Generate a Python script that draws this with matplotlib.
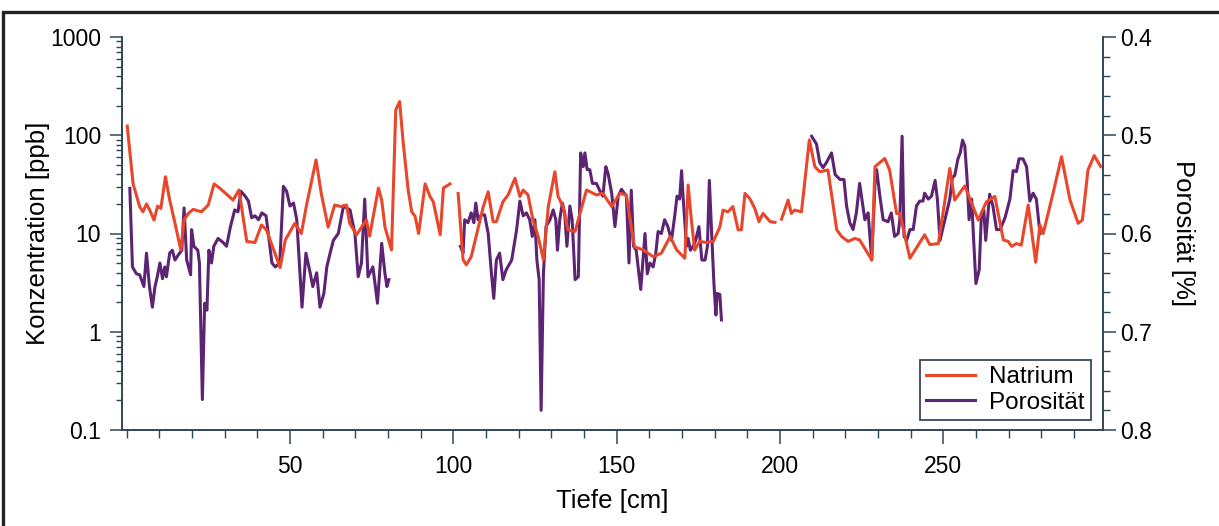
import numpy as np
import matplotlib
matplotlib.use("Agg")
import matplotlib.pyplot as plt
from matplotlib.ticker import FixedLocator, FuncFormatter, MultipleLocator, LogLocator, NullFormatter
from matplotlib.patches import Rectangle

plt.rcParams['font.family'] = ['Liberation Sans', 'DejaVu Sans']

# ---------------- data ----------------
na_depth = [0.2, 2.0, 4.0, 5.0, 6.1, 7.2, 8.4, 9.5, 10.5, 11.9, 13.2, 14.8, 16.6, 17.6, 18.9,
            20.4, 22.9, 25.0, 26.8, 28.6, 32.6, 34.4, 36.8, 39.3, 41.3, 42.8, 47.0, 48.6, 51.5,
            53.5, 55.0, 58.0, 59.6, 61.7, 63.7, 65.7, 67.3, 68.3, 70.4, 73.4, 74.4, 77.1, 78.1,
            79.1, 81.1, 82.4, 83.6, 84.6, 86.2, 87.3, 88.3, 89.4, 91.4, 92.9, 93.9, 96.0, 97.0,
            99.0, 100.2,
            101.5, 103.0, 104.0, 105.5, 107.2, 109.2, 110.7, 112.2, 113.2, 115.2, 116.8, 118.9,
            120.4, 121.4, 122.9, 124.4, 126.0, 127.6, 129.1, 131.1, 132.1, 133.6, 135.1, 137.3,
            138.8, 140.8, 143.8, 145.8, 148.5, 151.0, 153.0, 154.5, 155.5, 158.2, 161.2, 163.7,
            166.4, 168.4, 170.9, 171.9, 172.9, 173.9, 175.4, 177.5, 179.6, 181.6, 182.6, 184.1,
            185.6, 187.2, 188.2, 189.3, 190.8, 192.3, 193.6, 194.8, 197.0, 198.5,
            199.5,
            200.5, 202.5, 203.5, 204.5, 206.6, 209.0, 210.7, 212.2, 214.7, 217.4, 218.9, 220.9,
            222.9, 224.4, 228.1, 229.1, 232.1, 233.6, 235.7, 236.7, 239.8, 244.3, 245.9, 248.5,
            252.0, 253.5, 256.6, 260.7, 263.2, 265.8, 268.4, 269.9, 270.9, 272.4, 273.9, 276.0,
            278.3, 279.6, 280.6, 283.6, 286.2, 288.8, 291.3, 292.6, 294.3, 296.2, 298.2]
na_value = [124, 32, 18.8, 16.6, 20, 17, 13.7, 19, 18, 37.8, 21.9, 12.8, 6.8, 13.7, 16,
            17.6, 16.6, 19.5, 32, 28.8, 21.9, 27.7, 8.3, 8.1, 12.2, 10.9, 4.5, 8.6, 12.7,
            10, 18.8, 56, 25.6, 11.6, 19.5, 18.8, 19.5, 12.7, 9.7, 13.7, 9.4, 29, 21.9,
            11.6, 6.8, 181, 220, 89.5, 27.7, 16.6, 15, 10, 32, 23.8, 21, 9.7, 29,
            32, np.nan,
            25.6, 5.4, 4.8, 5.8, 10, 18.8, 26.6, 13.2, 13.2, 21, 24.7, 36.5,
            23.8, 27.7, 24.7, 13.7, 9.3, 5.4, 18.8, 42.5, 23.8, 18.8, 10.9, 10.5,
            16, 27.7, 24.7, 25.6, 18.8, 25.6, 24.7, 11.6, 7.3, 6.8, 5.8, 6.3,
            9.3, 6.8, 5.6, 31.2, 13.7, 6.8, 8.3, 8.1, 8.3, 11.6, 17.3, 16.6,
            18.8, 10.9, 10.9, 25.6, 22.6, 18, 13.2, 16, 13.2, 13,
            np.nan,
            14, 21.9, 16, 17.3, 16.6, 89.5, 47.9, 42.5, 44.3, 10.9, 9.3, 8.3,
            8.9, 8.6, 5.4, 47.9, 58, 44, 16, 16, 5.6, 9.7, 7.7, 7.9,
            46, 21.9, 30.5, 13.7, 21, 23.8, 8.6, 8.3, 7.4, 7.9, 7.6, 19.5,
            5.1, 12.2, 10, 25.6, 60.5, 21.9, 12.7, 13.7, 44.3, 62, 48]

por_depth = [1.0, 1.8, 3.0, 4.0, 5.3, 6.1, 7.0, 7.9, 8.7, 9.4, 10.2, 11.0, 11.7, 12.2, 13.2,
             14.0, 14.8, 15.8, 16.9, 17.6, 18.4, 19.6, 19.9, 20.6, 21.8, 22.3, 23.2, 23.9, 24.6,
             25.2, 26.0, 26.7, 28.0, 29.5, 30.6, 31.8, 33.1, 34.1, 35.0, 36.3, 37.3, 38.3, 39.3,
             40.4, 41.4, 42.7, 43.5, 44.5, 45.5, 46.9, 48.0, 49.0, 50.0, 51.1, 52.1, 53.7, 54.9,
             56.2, 57.0, 58.2, 59.2, 60.4, 61.3, 62.3, 63.3, 64.8, 66.4, 68.4, 69.9, 70.9, 71.9,
             72.9, 73.9, 75.4, 76.8, 78.1, 79.1, 79.7, 80.3,
             90.0,
             102.2, 103.0, 103.5, 104.5, 105.5, 106.3, 106.9, 107.6, 108.6, 109.6, 110.7, 111.7,
             112.4, 113.2, 114.2, 115.2, 116.2, 117.9, 119.4, 120.4, 121.4, 122.4, 123.4, 124.2,
             125.0, 125.6, 126.3, 126.9, 127.6, 128.4, 129.6, 130.6, 131.4, 131.9, 132.6, 133.4,
             134.1, 134.8, 135.7, 136.4, 137.3, 138.3, 139.0, 139.8, 140.3, 141.0, 141.8, 142.6,
             143.8, 144.8, 145.8, 146.7, 147.4, 148.5, 149.5, 150.5, 151.5, 153.0, 153.8, 154.5,
             155.2, 156.0, 157.4, 158.7, 159.4, 160.2, 161.2, 162.0, 162.7, 163.7, 164.7, 165.7,
             166.8, 167.8, 168.5, 169.3, 169.9, 170.4, 171.4, 171.9, 172.6, 173.4, 174.2, 175.2,
             176.1, 177.1, 177.8, 178.4, 179.1, 179.8, 180.4, 180.8, 181.6, 182.1,
             195.0,
             209.7, 211.2, 212.2, 213.2, 214.2, 215.8, 216.9, 218.4, 219.6, 220.4, 221.4, 222.4,
             223.4, 224.4, 226.0, 227.0, 228.1, 229.1, 229.6, 230.6, 231.6, 233.1, 234.1, 235.1,
             236.2, 236.7, 237.4, 238.0, 238.8, 239.8, 240.8, 241.8, 242.8, 243.8, 244.3, 245.4,
             246.4, 247.5, 248.2, 249.0, 250.0, 251.2, 252.0, 252.8, 253.5, 254.5, 255.2, 255.9,
             256.6, 257.3, 257.9, 258.7, 259.2, 260.0, 261.0, 261.7, 262.4, 263.0, 264.2, 265.2,
             266.3, 267.4, 268.9, 270.4, 271.4, 272.4, 273.2, 274.4, 275.5, 276.5, 277.5, 278.5,
             279.6]
por_value = [0.554, 0.634, 0.641, 0.642, 0.654, 0.620, 0.654, 0.675, 0.654, 0.644, 0.630, 0.646,
             0.634, 0.644, 0.620, 0.617, 0.627, 0.622, 0.617, 0.574, 0.627, 0.642, 0.596, 0.613,
             0.617, 0.630, 0.769, 0.671, 0.678, 0.617, 0.630, 0.613, 0.605, 0.609, 0.613, 0.593,
             0.576, 0.578, 0.557, 0.562, 0.567, 0.584, 0.582, 0.586, 0.579, 0.582, 0.603, 0.630,
             0.634, 0.630, 0.552, 0.557, 0.572, 0.569, 0.586, 0.675, 0.620, 0.640, 0.654, 0.640,
             0.675, 0.661, 0.634, 0.620, 0.607, 0.600, 0.572, 0.576, 0.600, 0.644, 0.630, 0.565,
             0.644, 0.634, 0.671, 0.610, 0.641, 0.654, 0.647,
             np.nan,
             0.613, 0.620, 0.586, 0.589, 0.579, 0.589, 0.569, 0.586, 0.581, 0.581, 0.600, 0.641,
             0.666, 0.627, 0.620, 0.647, 0.637, 0.627, 0.596, 0.567, 0.582, 0.579, 0.586, 0.603,
             0.586, 0.627, 0.647, 0.780, 0.641, 0.593, 0.586, 0.576, 0.586, 0.617, 0.586, 0.569,
             0.579, 0.613, 0.572, 0.586, 0.647, 0.644, 0.518, 0.532, 0.518, 0.535, 0.535, 0.549,
             0.549, 0.556, 0.562, 0.532, 0.539, 0.559, 0.593, 0.562, 0.555, 0.562, 0.630, 0.556,
             0.613, 0.617, 0.657, 0.600, 0.641, 0.630, 0.634, 0.620, 0.598, 0.600, 0.586, 0.593,
             0.607, 0.582, 0.562, 0.565, 0.536, 0.565, 0.613, 0.605, 0.617, 0.613, 0.607, 0.593,
             0.627, 0.627, 0.613, 0.546, 0.600, 0.651, 0.683, 0.661, 0.662, 0.688,
             np.nan,
             0.501, 0.509, 0.528, 0.533, 0.528, 0.518, 0.540, 0.545, 0.545, 0.572, 0.589, 0.596,
             0.579, 0.549, 0.586, 0.579, 0.627, 0.549, 0.535, 0.562, 0.586, 0.588, 0.579, 0.603,
             0.600, 0.586, 0.501, 0.603, 0.607, 0.596, 0.596, 0.572, 0.567, 0.567, 0.559, 0.565,
             0.562, 0.546, 0.565, 0.607, 0.593, 0.576, 0.565, 0.543, 0.541, 0.524, 0.518, 0.505,
             0.511, 0.545, 0.586, 0.565, 0.600, 0.651, 0.637, 0.579, 0.576, 0.607, 0.560, 0.572,
             0.596, 0.596, 0.584, 0.565, 0.536, 0.537, 0.524, 0.524, 0.532, 0.567, 0.559, 0.565,
             0.600]

left_ticks = [0.1, 1, 10, 100, 1000]
left_ticklabels = ['0.1', '1', '10', '100', '1000']
right_ticks = [0.4, 0.5, 0.6, 0.7, 0.8]
x_ticks = [50, 100, 150, 200, 250]

# ---------------- styling ----------------
RED = '#E8472B'
PURPLE = '#5C2472'
TICKC = '#2F4655'

fig = plt.figure(figsize=(12.19, 5.26), dpi=100)
ax = fig.add_axes([122 / 1219, 1 - 430 / 526, (1103 - 122) / 1219, (430 - 37) / 526])
ax2 = ax.twinx()
ax.set_zorder(ax2.get_zorder() + 1)
ax.patch.set_visible(False)

l2, = ax2.plot(por_depth, por_value, color=PURPLE, lw=2.2, label='Porosität')
l1, = ax.plot(na_depth, na_value, color=RED, lw=2.2, label='Natrium')

ax.set_yscale('log')
ax.set_ylim(0.1, 1000)
ax.set_xlim(-1.4, 298.9)
ax2.set_ylim(0.8, 0.4)

ax.yaxis.set_major_locator(FixedLocator(left_ticks))
ax.yaxis.set_major_formatter(FuncFormatter(lambda v, p: left_ticklabels[left_ticks.index(v)] if v in left_ticks else ''))
ax.yaxis.set_minor_locator(LogLocator(base=10, subs=np.arange(2, 10)))
ax.yaxis.set_minor_formatter(NullFormatter())

ax2.yaxis.set_major_locator(FixedLocator(right_ticks))
ax2.yaxis.set_major_formatter(FuncFormatter(lambda v, p: f'{v:.1f}'))
ax2.yaxis.set_minor_locator(MultipleLocator(0.02))

ax.xaxis.set_major_locator(FixedLocator(x_ticks))
ax.xaxis.set_minor_locator(MultipleLocator(10))

for a in (ax, ax2):
    a.spines['top'].set_visible(False)
    for s in a.spines.values():
        s.set_color(TICKC)
        s.set_linewidth(1.2)

ax.tick_params(axis='y', which='major', direction='out', length=9, width=1.1, color=TICKC,
               labelsize=16.5, pad=6, labelcolor='black')
ax.tick_params(axis='y', which='minor', direction='out', length=4.5, width=1.0, color=TICKC)
ax.tick_params(axis='x', which='major', direction='out', length=10, width=1.1, color=TICKC,
               labelsize=16.5, pad=8, labelcolor='black')
ax.tick_params(axis='x', which='minor', direction='out', length=6, width=1.0, color=TICKC)
ax2.tick_params(axis='y', which='major', direction='out', length=9, width=1.1, color=TICKC,
                labelsize=16.5, pad=3, labelcolor='black')
ax2.tick_params(axis='y', which='minor', direction='out', length=5, width=1.0, color=TICKC)

ax.set_xlabel('Tiefe [cm]', fontsize=18.5, labelpad=8)
ax.set_ylabel('Konzentration [ppb]', fontsize=18.5, labelpad=0)
ax2.set_ylabel('Porosität [%]', fontsize=18.5, rotation=270, labelpad=31)

leg = ax.legend(handles=[l1, l2], loc='lower right', fontsize=17.5, frameon=True,
                fancybox=False, framealpha=1, edgecolor='#3A4A50', handlelength=2.0,
                borderpad=0.25, labelspacing=0.15, handletextpad=0.6,
                bbox_to_anchor=(1 - 12 / 981, 10 / 393), borderaxespad=0)
leg.get_frame().set_linewidth(1.3)

# figure frame
fig.patches.append(Rectangle((3 / 1219, -0.1), 1.2, 1.1 - 11.5 / 526, transform=fig.transFigure,
                             fill=False, edgecolor='#222222', lw=2.4, clip_on=False))

fig.savefig('out.png', dpi=100)
